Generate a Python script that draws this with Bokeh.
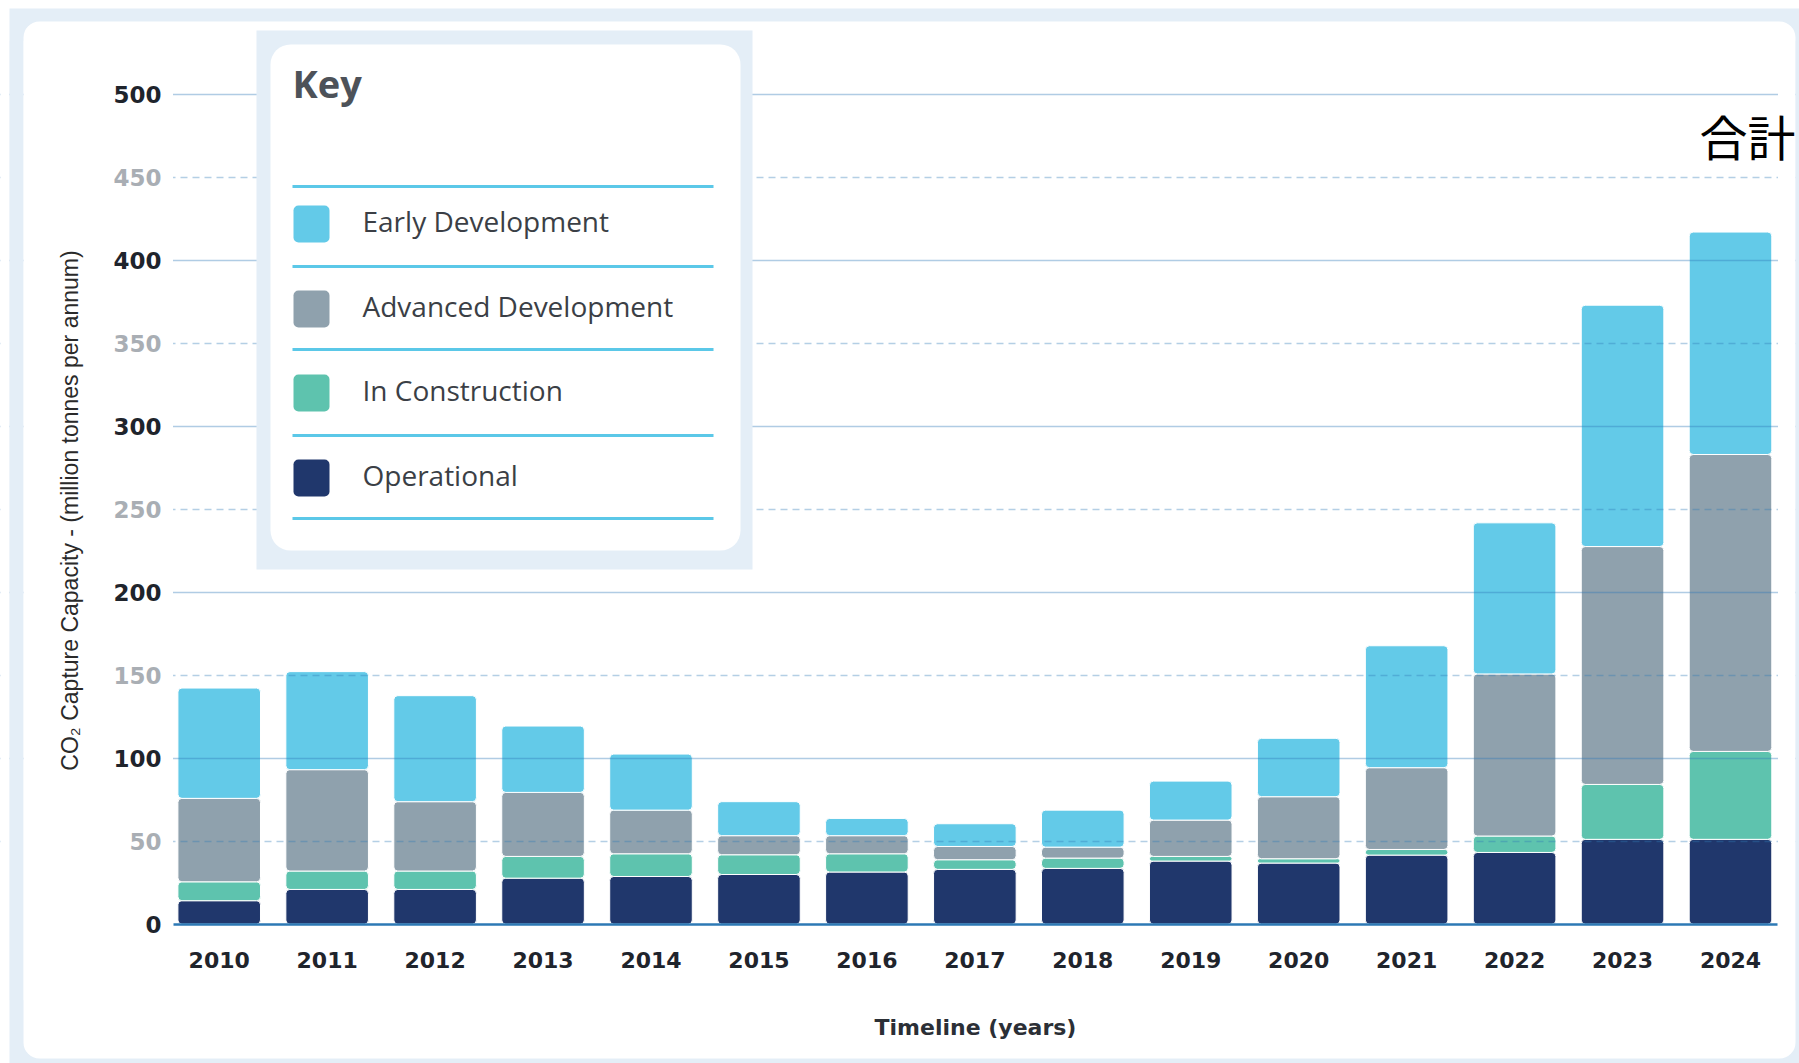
import math
from bokeh.plotting import figure
from bokeh.models import (Range1d, FixedTicker, LinearAxis, Grid, BoxAnnotation,
                          Label, ColumnDataSource)
from bokeh.embed import file_html
from bokeh.resources import INLINE

# ---------------- data ----------------
years = [2010, 2011, 2012, 2013, 2014, 2015, 2016, 2017, 2018, 2019, 2020, 2021, 2022, 2023, 2024]
operational = [14.1, 20.9, 20.9, 27.7, 28.7, 29.9, 31.4, 33.0, 33.6, 38.0, 36.8, 41.6, 43.2, 51.1, 51.1]
in_construction = [11.4, 11.1, 11.1, 13.1, 13.7, 11.9, 11.0, 5.8, 6.2, 2.8, 2.6, 3.4, 9.9, 33.1, 53.0]
advanced_development = [50.3, 61.1, 41.8, 38.6, 26.3, 11.5, 10.9, 8.0, 6.6, 21.9, 37.4, 49.3, 97.7, 143.4, 179.0]
early_development = [66.5, 59.1, 63.9, 40.0, 33.8, 20.5, 10.4, 13.7, 22.3, 23.5, 35.2, 73.5, 91.1, 145.5, 134.1]

series_keys = ["operational", "in_construction", "advanced_development", "early_development"]
series_names = ["Operational", "In Construction", "Advanced Development", "Early Development"]
series_colors = ["#20376c", "#5ec3ae", "#8fa1ad", "#63cae8"]

legend_order = ["Early Development", "Advanced Development", "In Construction", "Operational"]

major_ticks = [0, 100, 200, 300, 400, 500]
minor_ticks = [50, 150, 250, 350, 450]

y_title = "CO\u2082 Capture Capacity - (million tonnes per annum)"
x_title = "Timeline (years)"
key_title = "Key"
total_label = "合計"

# ---------------- geometry (frame = whole canvas) ----------------
W, H = 1799, 1063
PXX = 107.95            # px per year
FIRST_PX = 218.7        # px of first year's centre
PXY = 1.6588            # px per unit of capacity
ZERO_PX = 923.6         # px of y = 0
PLOT_L, PLOT_R = 173, 1777

X0 = years[0] - FIRST_PX / PXX
X1 = X0 + W / PXX
Y1 = ZERO_PX / PXY
Y0 = -(H - ZERO_PX) / PXY


def dx(px):
    return X0 + px / PXX


def dy(py):
    return (ZERO_PX - py) / PXY


PANEL_BLUE = "#e4eef7"

p = figure(width=W, height=H, x_range=Range1d(X0, X1), y_range=Range1d(Y0, Y1),
           output_backend="svg", toolbar_location=None,
           min_border_left=0, min_border_right=0, min_border_top=0, min_border_bottom=0)
p.background_fill_color = "white"
p.border_fill_color = "white"
p.outline_line_color = None

# page band + white rounded panel
p.add_layout(BoxAnnotation(left=dx(9), right=dx(1805), top=dy(8), bottom=dy(1070),
                           fill_color=PANEL_BLUE, fill_alpha=1.0, line_color=None, level="image"))
p.add_layout(BoxAnnotation(left=dx(23), right=dx(1795), top=dy(21), bottom=dy(1058),
                           fill_color="white", fill_alpha=1.0, line_color=None,
                           border_radius=16, level="image"))

# ---------------- bars ----------------
src = ColumnDataSource(dict(year=years, operational=operational, in_construction=in_construction,
                            advanced_development=advanced_development,
                            early_development=early_development))
p.vbar_stack(series_keys, x="year", width=0.765, source=src, color=series_colors,
             line_color="white", line_width=1, border_radius=4)

# ---------------- grids ----------------
p.xgrid.visible = False
g = p.ygrid[0]
g.ticker = FixedTicker(ticks=[t for t in major_ticks if t > 0])
g.grid_line_color = "#2f7ab8"
g.grid_line_alpha = 0.38
g.grid_line_width = 1.5
g.level = "guide"

g2 = Grid(dimension=1, ticker=FixedTicker(ticks=minor_ticks), grid_line_color="#2f7ab8",
          grid_line_alpha=0.36, grid_line_width=1.5, grid_line_dash="7 5", level="guide")
p.add_layout(g2)

# covers so the grid only spans the plotting area
for l, r, c in ((0, 9, "white"), (9, 23, PANEL_BLUE), (23, PLOT_L - 0.5, "white"),
                (PLOT_R + 0.5, 1795, "white"), (1795, 1800, PANEL_BLUE)):
    p.add_layout(BoxAnnotation(left=dx(l), right=dx(r), top=dy(40), bottom=dy(1000),
                               fill_color=c, fill_alpha=1.0, line_color=None))

# ---------------- axes ----------------
ya = p.yaxis[0]
ya.ticker = FixedTicker(ticks=major_ticks)
ya.fixed_location = dx(PLOT_L)

gray_axis = LinearAxis(ticker=FixedTicker(ticks=minor_ticks), fixed_location=dx(PLOT_L))
p.add_layout(gray_axis, "left")

for ax, col in ((ya, "#1f242c"), (gray_axis, "#a9aeb4")):
    ax.axis_line_color = None
    ax.major_tick_line_color = None
    ax.minor_tick_line_color = None
    ax.major_tick_out = 0
    ax.major_tick_in = 0
    ax.major_label_standoff = 12
    ax.major_label_text_font = "DejaVu Sans"
    ax.major_label_text_font_style = "bold"
    ax.major_label_text_font_size = "23px"
    ax.major_label_text_color = col
    ax.level = "overlay"

xa = p.xaxis[0]
xa.fixed_location = 0
xa.bounds = (dx(PLOT_L), dx(PLOT_R))
xa.ticker = FixedTicker(ticks=years)
xa.major_label_overrides = {y: str(y) for y in years}
xa.major_tick_line_color = None
xa.minor_tick_line_color = None
xa.major_tick_out = 0
xa.major_tick_in = 0
xa.major_label_standoff = 28
xa.major_label_text_font = "DejaVu Sans"
xa.major_label_text_font_style = "bold"
xa.major_label_text_font_size = "22px"
xa.major_label_text_color = "#1f242c"
xa.axis_line_color = "#2d79b5"
xa.axis_line_width = 2.5
xa.axis_label = x_title
xa.axis_label_standoff = 43
xa.axis_label_text_font = "DejaVu Sans"
xa.axis_label_text_font_style = "bold"
xa.axis_label_text_font_size = "22px"
xa.axis_label_text_color = "#2b2f36"
xa.level = "overlay"

p.add_layout(Label(x=dx(69), y=dy(510), text=y_title, angle=math.pi / 2,
                   text_align="center", text_baseline="middle", level="overlay",
                   text_font="Liberation Sans", text_font_size="23px", text_color="#2a2a2a"))

# ---------------- key ----------------
p.add_layout(BoxAnnotation(left=dx(256), right=dx(752), top=dy(30), bottom=dy(569),
                           fill_color=PANEL_BLUE, fill_alpha=1.0, line_color=None, level="overlay"))
p.add_layout(BoxAnnotation(left=dx(270), right=dx(740), top=dy(44), bottom=dy(550),
                           fill_color="white", fill_alpha=1.0, line_color=None,
                           border_radius=20, level="overlay"))
p.add_layout(Label(x=dx(292), y=dy(82), text=key_title, text_font="Open Sans",
                   text_font_style="bold", text_font_size="38px", text_color="#4d5259",
                   text_baseline="alphabetic", level="overlay"))
sep_y = [186, 266, 349, 435, 518]
for sy in sep_y:
    p.add_layout(BoxAnnotation(left=dx(292), right=dx(713), top=dy(sy - 1.5), bottom=dy(sy + 1.5),
                               fill_color="#5bc8e8", fill_alpha=1.0, line_color=None, level="overlay"))
sw_top = [205, 290, 374, 459]
base_y = [220, 305, 389, 474]
for name, st, by in zip(legend_order, sw_top, base_y):
    c = series_colors[series_names.index(name)]
    p.add_layout(BoxAnnotation(left=dx(293), right=dx(329), top=dy(st), bottom=dy(st + 37),
                               fill_color=c, fill_alpha=1.0, line_color=None, border_radius=5,
                               level="overlay"))
    p.add_layout(Label(x=dx(362), y=dy(by), text=name, text_font="Open Sans",
                       text_font_size="28px", text_color="#3b3f46", text_baseline="alphabetic",
                       level="overlay"))

p.add_layout(Label(x=dx(1795), y=dy(134), text=total_label, text_font="Noto Sans CJK JP",
                   text_font_size="48px", text_color="#000000", text_align="right",
                   text_baseline="middle", level="overlay"))

open("out.html", "w").write(file_html(p, INLINE))
